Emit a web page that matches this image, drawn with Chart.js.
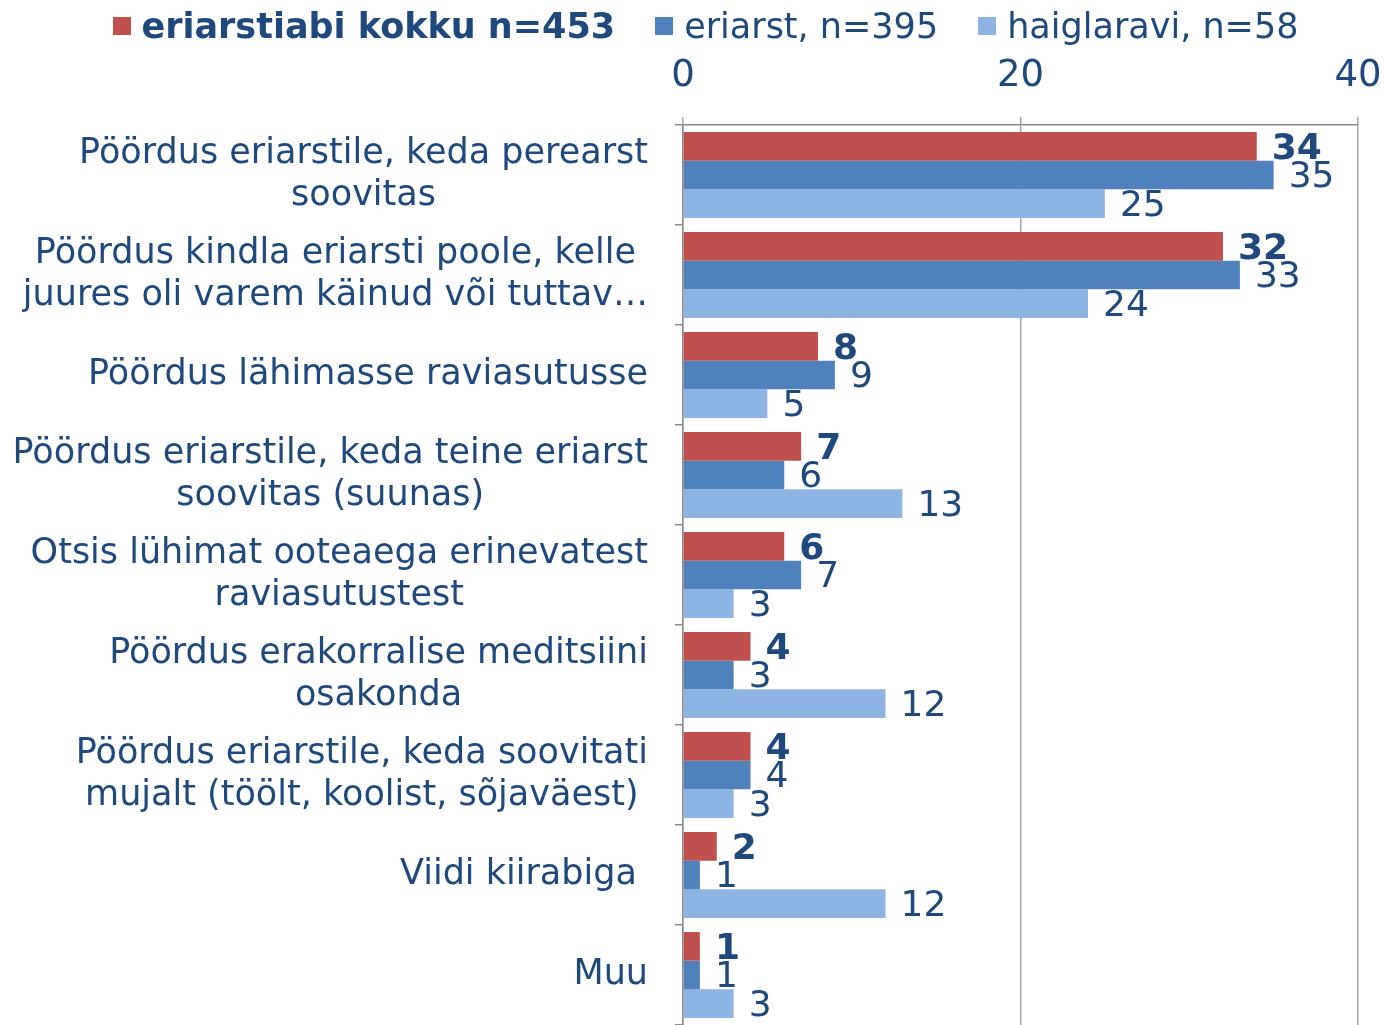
<!DOCTYPE html>
<html>
<head>
<meta charset="utf-8">
<script src="https://cdn.jsdelivr.net/npm/chart.js@4"></script>
<style>
  body { margin: 0; background: #fff; }
  #wrap { position: relative; width: 1387px; height: 1025px; }
  #legend {
    position: absolute; top: 6px; left: 0; width: 1387px;
    display: flex; justify-content: center; align-items: center;
    font-family: "DejaVu Sans", Verdana, sans-serif; font-size: 35px;
    color: #1F497D; padding-left: 24px; box-sizing: border-box;
  }
  #legend span.item { display: flex; align-items: center; margin: 0 20px; }
  #legend span.box { width: 18px; height: 18px; margin-right: 11px; display: inline-block; }
</style>
</head>
<body>
<div id="wrap">
  <canvas id="chart" width="1387" height="1025"></canvas>
  <div id="legend"></div>
</div>
<script>
const categories = [
  ["Pöördus eriarstile, keda perearst", "soovitas"],
  ["Pöördus kindla eriarsti poole, kelle", "juures oli varem käinud või tuttav…"],
  "Pöördus lähimasse raviasutusse",
  ["Pöördus eriarstile, keda teine eriarst", "soovitas (suunas)"],
  ["Otsis lühimat ooteaega erinevatest", "raviasutustest"],
  ["Pöördus erakorralise meditsiini", "osakonda"],
  ["Pöördus eriarstile, keda soovitati", "mujalt (töölt, koolist, sõjaväest)"],
  "Viidi kiirabiga ",
  "Muu"
];
const seriesNames = ["eriarstiabi kokku n=453", "eriarst, n=395", "haiglaravi, n=58"];
const kokku = [34, 32, 8, 7, 6, 4, 4, 2, 1];
const eriarst = [35, 33, 9, 6, 7, 3, 4, 1, 1];
const haiglaravi = [25, 24, 5, 13, 3, 12, 3, 12, 3];
const xTicks = [0, 20, 40];

const colors = ["#C0504D", "#4F81BD", "#8EB4E3"];
const textColor = "#1F497D";
const fontFamily = "'DejaVu Sans', Verdana, sans-serif";

// legend as plain html, first entry bold
const legendEl = document.getElementById("legend");
seriesNames.forEach(function (name, i) {
  const item = document.createElement("span");
  item.className = "item";
  item.innerHTML = '<span class="box" style="background:' + colors[i] + '"></span>' +
    '<span style="font-weight:' + (i === 0 ? "bold" : "normal") + '">' + name + '</span>';
  legendEl.appendChild(item);
});

// category labels: lines centred on each other, block right-aligned to the axis
const categoryLabels = {
  id: "categoryLabels",
  afterDraw(chart) {
    const ctx = chart.ctx;
    const y = chart.scales.y;
    const right = y.right - 35;
    const lineH = 42;
    ctx.save();
    ctx.font = "35px " + fontFamily;
    ctx.fillStyle = textColor;
    ctx.textBaseline = "middle";
    ctx.textAlign = "center";
    categories.forEach(function (label, j) {
      const lines = Array.isArray(label) ? label : [label];
      const maxW = Math.max.apply(null, lines.map(l => ctx.measureText(l).width));
      const cy = y.getPixelForValue(j);
      const top = cy - (lines.length - 1) * lineH / 2;
      lines.forEach(function (l, k) {
        ctx.fillText(l, right - maxW / 2, top + k * lineH);
      });
    });
    ctx.restore();
  }
};

// value labels after each bar
const valueLabels = {
  id: "valueLabels",
  afterDatasetsDraw(chart) {
    const ctx = chart.ctx;
    ctx.save();
    ctx.fillStyle = textColor;
    ctx.textBaseline = "middle";
    ctx.textAlign = "left";
    chart.data.datasets.forEach(function (ds, i) {
      ctx.font = (i === 0 ? "bold " : "") + "36px " + fontFamily;
      chart.getDatasetMeta(i).data.forEach(function (bar, j) {
        ctx.fillText(ds.data[j], bar.x + 15, bar.y + 3);
      });
    });
    ctx.restore();
  }
};

new Chart(document.getElementById("chart"), {
  type: "bar",
  data: {
    labels: categories,
    datasets: [
      { label: seriesNames[0], data: kokku, backgroundColor: colors[0] },
      { label: seriesNames[1], data: eriarst, backgroundColor: colors[1] },
      { label: seriesNames[2], data: haiglaravi, backgroundColor: colors[2] }
    ]
  },
  options: {
    indexAxis: "y",
    responsive: false,
    animation: false,
    layout: { padding: { top: 0, right: 29, bottom: 0, left: 0 } },
    datasets: {
      bar: { categoryPercentage: 0.86, barPercentage: 1.0, borderWidth: 0 }
    },
    plugins: {
      legend: { display: false },
      tooltip: { enabled: false }
    },
    scales: {
      x: {
        position: "top",
        min: 0,
        max: 40,
        afterBuildTicks: function (scale) {
          scale.ticks = xTicks.map(v => ({ value: v }));
        },
        afterFit: function (scale) {
          scale.height = 125;
          scale.paddingLeft = 0;
          scale.paddingRight = 0;
        },
        ticks: {
          color: textColor,
          font: { family: fontFamily, size: 37 },
          padding: 18,
          maxRotation: 0
        },
        grid: { color: "#A6A6A6", lineWidth: 1.5, tickLength: 8 },
        border: { color: "#8C8C8C", width: 1.5 }
      },
      y: {
        afterFit: function (scale) { scale.width = 683; },
        ticks: { display: false },
        grid: { drawOnChartArea: false, color: "#8C8C8C", lineWidth: 1.5, tickLength: 8 },
        border: { color: "#8C8C8C", width: 1.5 }
      }
    }
  },
  plugins: [categoryLabels, valueLabels]
});
</script>
</body>
</html>
